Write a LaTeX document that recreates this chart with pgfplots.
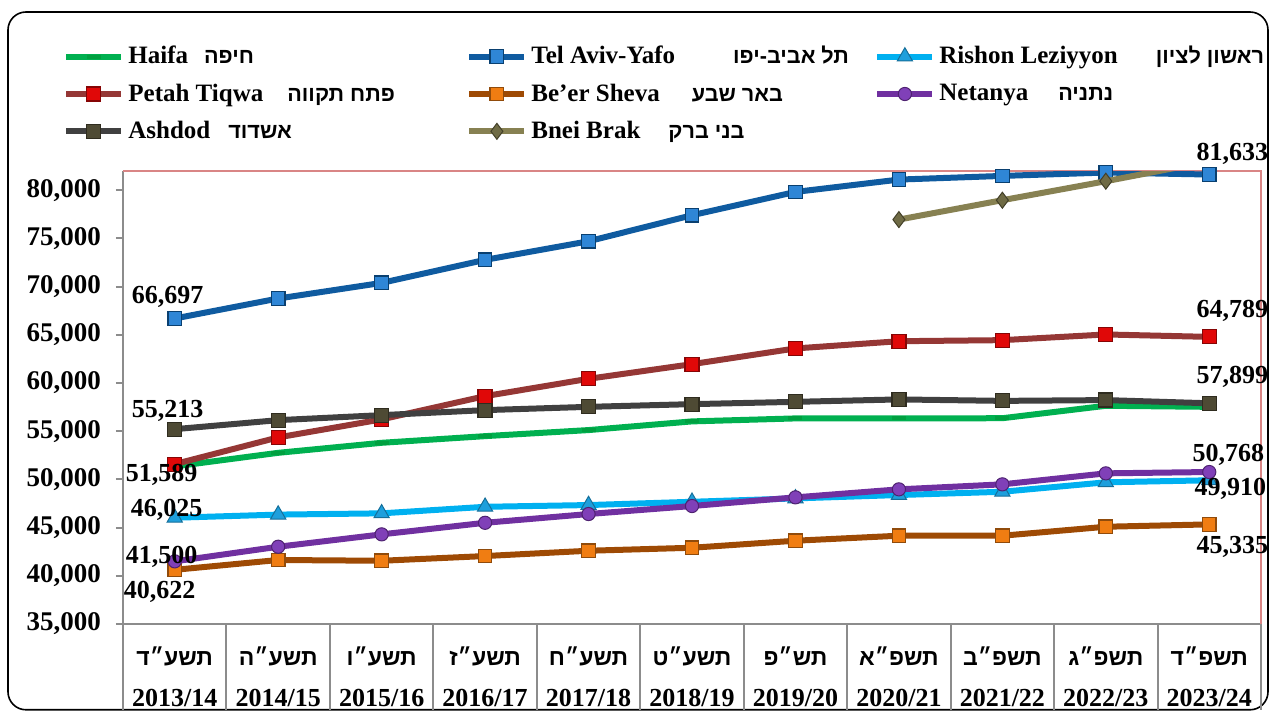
\documentclass[border=0pt]{standalone}
\usepackage{fontspec}
\setmainfont{Liberation Serif}
\newfontfamily\heb[Script=Hebrew]{Liberation Sans}
\usepackage{pgfplots}
\pgfplotsset{compat=1.18}
\TeXXeTstate=1
\newcommand{\hb}[1]{{\heb\bfseries\fontsize{11.5}{13}\selectfont\beginR #1\endR}}
\newcommand{\hl}[1]{{\heb\bfseries\fontsize{10.8}{13}\selectfont\beginR #1\endR}}
\definecolor{axgray}{HTML}{8C8C8C}
\definecolor{bordred}{HTML}{D98585}
\definecolor{haifa}{HTML}{00B050}
\definecolor{haifam}{HTML}{00A040}
\definecolor{tela}{HTML}{0F5BA0}
\definecolor{telam}{HTML}{2F86D6}
\definecolor{rish}{HTML}{00B0F0}
\definecolor{rishm}{HTML}{1E9FDC}
\definecolor{petah}{HTML}{953735}
\definecolor{petahm}{HTML}{E00808}
\definecolor{beer}{HTML}{9E4A04}
\definecolor{beerm}{HTML}{F07D12}
\definecolor{neta}{HTML}{7030A0}
\definecolor{netam}{HTML}{8040B8}
\definecolor{ashd}{HTML}{404040}
\definecolor{ashdm}{HTML}{4E4A34}
\definecolor{bnei}{HTML}{878152}
\definecolor{bneim}{HTML}{6F6B45}
\newcommand{\lbl}{\fontsize{13}{15}\selectfont\bfseries}
\begin{document}
\begin{tikzpicture}
\useasboundingbox (0,0) rectangle (634.5pt,355.5pt);
\draw[line width=0.8pt, rounded corners=9pt] (4pt,0.6pt) rectangle (634pt,349.5pt);
\begin{axis}[
  at={(61.5pt,43.5pt)}, anchor=south west, scale only axis,
  width=569pt, height=226.5pt,
  xmin=-0.5, xmax=10.5, ymin=35000, ymax=82000,
  axis lines=left, axis line style={-, draw=axgray, line width=1pt},
  clip mode=individual,
  tick align=outside,
  major tick length=3.5pt,
  minor tick length=43pt,
  ytick={35000,40000,45000,50000,55000,60000,65000,70000,75000,80000},
  ytick style={draw=axgray, line width=1pt},
  scaled y ticks=false,
  yticklabel style={font=\fontsize{13.5}{15}\selectfont\bfseries, xshift=-4pt, /pgf/number format/1000 sep={,}, /pgf/number format/assume math mode=true},
  xtick={0,1,2,3,4,5,6,7,8,9,10},
  major x tick style={draw=none},
  minor xtick={-0.5,0.5,1.5,2.5,3.5,4.5,5.5,6.5,7.5,8.5,9.5,10.5},
  minor x tick style={draw=axgray, line width=1pt},
  xticklabel style={align=center, font=\lbl, anchor=center, yshift=-23pt},
  xticklabels={
    {\hb{תשע״ד}\\[5.5pt]2013/14},
    {\hb{תשע״ה}\\[5.5pt]2014/15},
    {\hb{תשע״ו}\\[5.5pt]2015/16},
    {\hb{תשע״ז}\\[5.5pt]2016/17},
    {\hb{תשע״ח}\\[5.5pt]2017/18},
    {\hb{תשע״ט}\\[5.5pt]2018/19},
    {\hb{תש״פ}\\[5.5pt]2019/20},
    {\hb{תשפ״א}\\[5.5pt]2020/21},
    {\hb{תשפ״ב}\\[5.5pt]2021/22},
    {\hb{תשפ״ג}\\[5.5pt]2022/23},
    {\hb{תשפ״ד}\\[5.5pt]2023/24}},
  legend style={at={(-0.058,1.294)}, anchor=north west, draw=none, fill=none,
    font=\fontsize{12.5}{14}\selectfont\bfseries, legend columns=3, row sep=4.5pt,
    nodes={inner sep=2pt},
    /tikz/every even column/.append style={column sep=0pt}},
  legend cell align=left,
  legend image code/.code={\draw[mark repeat=2,mark phase=2] plot coordinates {(0pt,0pt) (13.75pt,0pt) (27.5pt,0pt)};},
  every axis plot/.append style={line width=3pt},
]
\draw[draw=bordred, line width=0.7pt] (rel axis cs:0,1) -- (rel axis cs:1,1) -- (rel axis cs:1,0);

\addplot[haifa, mark=-, mark size=3.5pt, mark options={draw=haifam, line width=2pt}] coordinates {
(0,51350) (1,52760) (2,53800) (3,54490) (4,55120) (5,56020) (6,56330) (7,56330) (8,56350) (9,57640) (10,57530)};
\addlegendentry{\makebox[167pt][l]{Haifa\hspace{8pt}\hl{חיפה}}}

\addplot[tela, mark=square*, mark size=3.4pt, mark options={fill=telam, draw=tela!70!black, line width=0.6pt}] coordinates {
(0,66697) (1,68770) (2,70390) (3,72780) (4,74710) (5,77410) (6,79830) (7,81110) (8,81490) (9,81840) (10,81633)};
\addlegendentry{\makebox[169.5pt][l]{Tel Aviv-Yafo\hspace{29pt}\hl{תל אביב-יפו}}}

\addplot[rish, mark=triangle*, mark size=4.4pt, mark options={fill=rishm, draw=rishm!70!black, line width=0.5pt}] coordinates {
(0,46025) (1,46350) (2,46480) (3,47160) (4,47340) (5,47680) (6,48030) (7,48380) (8,48720) (9,49700) (10,49910)};
\addlegendentry{Rishon Leziyyon\hspace{19pt}\hl{ראשון לציון}}

\addplot[petah, mark=square*, mark size=3.5pt, mark options={fill=petahm, draw=petahm!60!black, line width=0.6pt}] coordinates {
(0,51589) (1,54360) (2,56230) (3,58640) (4,60440) (5,61960) (6,63590) (7,64340) (8,64450) (9,65040) (10,64789)};
\addlegendentry{\makebox[167pt][l]{Petah Tiqwa\hspace{12pt}\hl{פתח תקווה}}}

\addplot[beer, mark=square*, mark size=3.4pt, mark options={fill=beerm, draw=beerm!60!black, line width=0.6pt}] coordinates {
(0,40622) (1,41640) (2,41560) (3,42050) (4,42600) (5,42910) (6,43640) (7,44160) (8,44160) (9,45090) (10,45335)};
\addlegendentry{\makebox[169.5pt][l]{Be'er Sheva\hspace{16pt}\hl{באר שבע}}}

\addplot[neta, mark=*, mark size=3.3pt, mark options={fill=netam, draw=neta!70!black, line width=0.5pt}] coordinates {
(0,41500) (1,43015) (2,44300) (3,45500) (4,46410) (5,47240) (6,48140) (7,48970) (8,49490) (9,50630) (10,50768)};
\addlegendentry{Netanya\hspace{15pt}\hl{נתניה}}

\addplot[ashd, mark=square*, mark size=3.5pt, mark options={fill=ashdm, draw=ashdm!60!black, line width=0.6pt}] coordinates {
(0,55213) (1,56150) (2,56670) (3,57190) (4,57530) (5,57810) (6,58050) (7,58300) (8,58150) (9,58230) (10,57899)};
\addlegendentry{\makebox[167pt][l]{Ashdod\hspace{9pt}\hl{אשדוד}}}

\addplot[bnei, mark=diamond*, mark size=4pt, mark indices={1,2,3}, mark options={fill=bneim, draw=bneim!60!black, line width=0.5pt}, forget plot] coordinates {
(7,76960) (8,78970) (9,80940) (10,83000)};
\addlegendimage{bnei, line width=3pt, mark=diamond*, mark size=4pt, mark options={fill=bneim, draw=bneim!60!black, line width=0.5pt}}
\addlegendentry{\makebox[169.5pt][l]{Bnei Brak\hspace{14pt}\hl{בני ברק}}}

\node[font=\lbl, xshift=-3.5pt, yshift=11pt] at (axis cs:0,66697) {66,697};
\node[font=\lbl, xshift=-3.5pt, yshift=9pt] at (axis cs:0,55213) {55,213};
\node[font=\lbl, xshift=-6.5pt, yshift=-5.5pt] at (axis cs:0,51589) {51,589};
\node[font=\lbl, xshift=-4pt, yshift=4pt] at (axis cs:0,46025) {46,025};
\node[font=\lbl, xshift=-6.5pt, yshift=2pt] at (axis cs:0,41500) {41,500};
\node[font=\lbl, xshift=-7.5pt, yshift=-11pt] at (axis cs:0,40622) {40,622};
\node[font=\lbl, xshift=11.5pt, yshift=10.5pt] at (axis cs:10,81633) {81,633};
\node[font=\lbl, xshift=11.5pt, yshift=13pt] at (axis cs:10,64789) {64,789};
\node[font=\lbl, xshift=11.5pt, yshift=13pt] at (axis cs:10,57899) {57,899};
\node[font=\lbl, xshift=9.5pt, yshift=8.5pt] at (axis cs:10,50768) {50,768};
\node[font=\lbl, xshift=10.5pt, yshift=-4.5pt] at (axis cs:10,49910) {49,910};
\node[font=\lbl, xshift=11.5pt, yshift=-11.5pt] at (axis cs:10,45335) {45,335};
\end{axis}
\end{tikzpicture}
\end{document}
